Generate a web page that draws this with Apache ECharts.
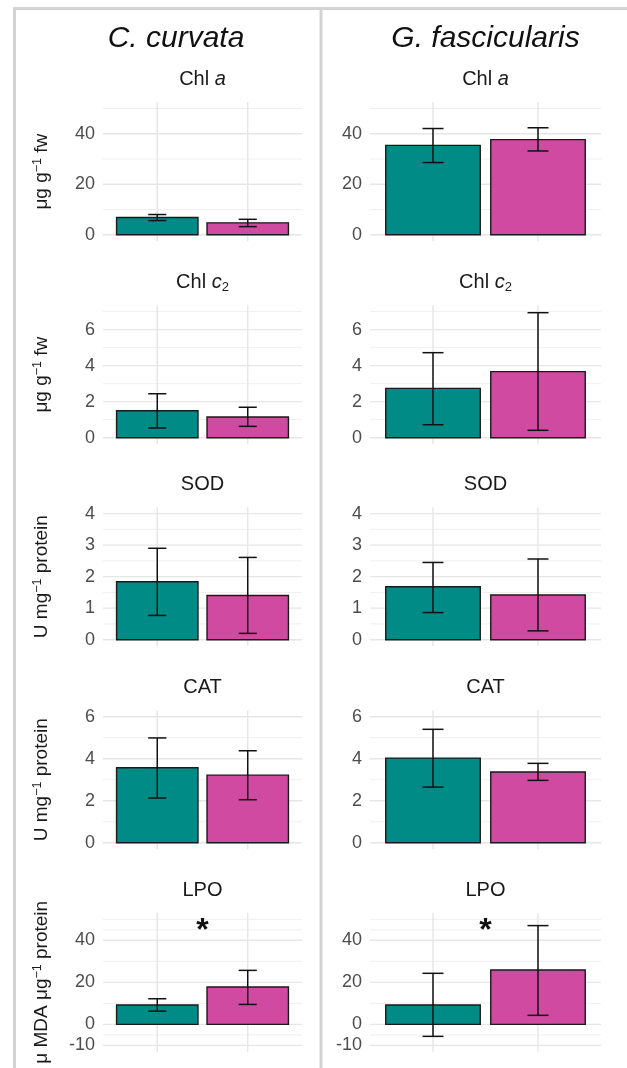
<!DOCTYPE html>
<html><head><meta charset="utf-8">
<script src="https://cdn.jsdelivr.net/npm/echarts@6/dist/echarts.min.js"></script>
<style>html,body{margin:0;padding:0;background:#fff}#c{width:627px;height:1068px}</style>
</head><body><div id="c"></div>
<script>
// ---------- data ----------
const species = ['C. curvata', 'G. fascicularis'];
const panelTitles = ['{n|Chl }{i|a}', '{n|Chl }{i|c}{s|2}', '{n|SOD}', '{n|CAT}', '{n|LPO}'];
const yTitles = ['{a|μg g}{p|−1}{a| fw}', '{a|μg g}{p|−1}{a| fw}', '{a|U mg}{p|−1}{a| protein}', '{a|U mg}{p|−1}{a| protein}', '{a|μ MDA μg}{p|−1}{a| protein}'];
const groupPos = [1, 2];

// C. curvata
const ccTealMean = [6.8, 1.50, 1.84, 3.57, 9.2];
const ccTealLow  = [5.6, 0.54, 0.77, 2.13, 6.3];
const ccTealHigh = [8.0, 2.44, 2.90, 4.99, 12.2];
const ccPinkMean = [4.7, 1.15, 1.40, 3.22, 17.8];
const ccPinkLow  = [3.2, 0.63, 0.20, 2.05, 9.5];
const ccPinkHigh = [6.1, 1.69, 2.61, 4.38, 25.7];
// G. fascicularis
const gfTealMean = [35.4, 2.74, 1.68, 4.03, 9.2];
const gfTealLow  = [28.6, 0.72, 0.86, 2.65, -5.7];
const gfTealHigh = [42.1, 4.72, 2.45, 5.40, 24.3];
const gfPinkMean = [37.7, 3.67, 1.42, 3.37, 25.9];
const gfPinkLow  = [33.2, 0.41, 0.28, 2.97, 4.3];
const gfPinkHigh = [42.4, 6.94, 2.56, 3.78, 47.0];

const yMin = [-2.5, -0.35, -0.2, -0.3, -13];
const yMax = [52.5, 7.35, 4.2, 6.3, 53];
const majorTicks = [[0, 20, 40], [0, 2, 4, 6], [0, 1, 2, 3, 4], [0, 2, 4, 6], [-10, 0, 20, 40]];
const minorTicks = [[10, 30, 50], [1, 3, 5, 7], [0.5, 1.5, 2.5, 3.5], [1, 3, 5], [-5, 10, 30, 45, 50]];
const starLabel = ['', '', '', '', '*'];
const starY = [null, null, null, null, 47];

// ---------- layout / style ----------
const FONT = '"Liberation Sans", Arial, sans-serif';
const TEAL = '#008B87', PINK = '#D14AA1';
const X_MIN = 0.4, X_MAX = 2.6, BAR_W = 0.9, CAP_W = 0.2;
const colLeft = [103, 370], colWidth = [199, 231];
const rowTop = [102.3, 305.3, 507.3, 710.4, 913], rowH = 138.7;
const headerX = [176, 485.5];

const dataSets = [
  [ccTealMean, ccTealLow, ccTealHigh, ccPinkMean, ccPinkLow, ccPinkHigh],
  [gfTealMean, gfTealLow, gfTealHigh, gfPinkMean, gfPinkLow, gfPinkHigh]
];

const grids = [], xAxes = [], yAxes = [], series = [], graphics = [];

for (let c = 0; c < 2; c++) {
  for (let r = 0; r < 5; r++) {
    const i = c * 5 + r;
    grids.push({left: colLeft[c], top: rowTop[r], width: colWidth[c], height: rowH, containLabel: false, outerBoundsMode: 'none'});
    xAxes.push({gridIndex: i, type: 'value', min: X_MIN, max: X_MAX, show: false});
    yAxes.push({
      gridIndex: i, type: 'value', min: yMin[r], max: yMax[r],
      axisLine: {show: false}, axisTick: {show: false}, splitLine: {show: false},
      axisLabel: {customValues: majorTicks[r], color: '#4d4d4d', fontSize: 18, fontFamily: FONT, margin: 8},
      name: c === 0 ? yTitles[r] : '', nameLocation: 'middle', nameGap: 51,
      nameTextStyle: {
        color: '#1a1a1a', fontFamily: FONT, fontSize: 19,
        rich: {
          a: {fontSize: 19, lineHeight: 21, fontFamily: FONT, color: '#1a1a1a'},
          p: {fontSize: 12.5, lineHeight: 12, verticalAlign: 'top', fontFamily: FONT, color: '#1a1a1a'}
        }
      }
    });
    const lo = yMin[r], hi = yMax[r];
    // horizontal grid lines
    series.push({
      type: 'custom', xAxisIndex: i, yAxisIndex: i, silent: true, z: 1, clip: false,
      data: majorTicks[r].map(v => [v, 1]).concat(minorTicks[r].map(v => [v, 0])),
      renderItem: (p, api) => {
        const v = api.value(0), major = api.value(1);
        const a = api.coord([X_MIN, v]), b = api.coord([X_MAX, v]);
        return {type: 'line', shape: {x1: a[0], y1: a[1], x2: b[0], y2: b[1]},
          style: {stroke: major ? '#e6e6e6' : '#efefef', lineWidth: major ? 1.4 : 1}};
      }
    });
    // vertical grid lines
    series.push({
      type: 'custom', xAxisIndex: i, yAxisIndex: i, silent: true, z: 1, clip: false,
      data: groupPos.map(x => [x, 0]),
      renderItem: (p, api) => {
        const x = api.value(0);
        const a = api.coord([x, lo]), b = api.coord([x, hi]);
        return {type: 'line', shape: {x1: a[0], y1: a[1], x2: b[0], y2: b[1]},
          style: {stroke: '#e6e6e6', lineWidth: 1.4}};
      }
    });
    // bars + error bars
    const d = dataSets[c];
    series.push({
      type: 'custom', xAxisIndex: i, yAxisIndex: i, z: 3, clip: false,
      data: [[groupPos[0], d[0][r], d[1][r], d[2][r], 0], [groupPos[1], d[3][r], d[4][r], d[5][r], 1]],
      renderItem: (p, api) => {
        const x = api.value(0), m = api.value(1), l = api.value(2), h = api.value(3), k = api.value(4);
        const tl = api.coord([x - BAR_W / 2, m]), br = api.coord([x + BAR_W / 2, 0]);
        const e1 = api.coord([x, l]), e2 = api.coord([x, h]);
        const cl = api.coord([x - CAP_W / 2, h]), cr = api.coord([x + CAP_W / 2, h]);
        const bl = api.coord([x - CAP_W / 2, l]), brr = api.coord([x + CAP_W / 2, l]);
        const es = {stroke: '#111', lineWidth: 1.5};
        return {type: 'group', children: [
          {type: 'rect', shape: {x: tl[0], y: tl[1], width: br[0] - tl[0], height: br[1] - tl[1]},
            style: {fill: k === 0 ? TEAL : PINK, stroke: '#1a1a1a', lineWidth: 1.4}},
          {type: 'line', shape: {x1: e1[0], y1: e1[1], x2: e2[0], y2: e2[1]}, style: es},
          {type: 'line', shape: {x1: cl[0], y1: cl[1], x2: cr[0], y2: cr[1]}, style: es},
          {type: 'line', shape: {x1: bl[0], y1: bl[1], x2: brr[0], y2: brr[1]}, style: es}
        ]};
      }
    });
    if (starLabel[r]) {
      series.push({
        type: 'custom', xAxisIndex: i, yAxisIndex: i, z: 4, clip: false, silent: true,
        data: [[(groupPos[0] + groupPos[1]) / 2, starY[r]]],
        renderItem: (p, api) => {
          const pt = api.coord([api.value(0), api.value(1)]);
          return {type: 'text', x: pt[0], y: pt[1] + 6,
            style: {text: starLabel[r], fill: '#111', font: 'bold 32px ' + FONT, align: 'center', verticalAlign: 'middle'}};
        }
      });
    }
    // panel title
    graphics.push({
      type: 'text', x: colLeft[c] + colWidth[c] / 2, y: rowTop[r] - 23, silent: true,
      style: {
        text: panelTitles[r], align: 'center', verticalAlign: 'middle', fill: '#1a1a1a',
        font: '20px ' + FONT,
        rich: {
          n: {fontSize: 20, lineHeight: 24, fontFamily: FONT, fill: '#1a1a1a'},
          i: {fontSize: 20, lineHeight: 24, fontStyle: 'italic', fontFamily: FONT, fill: '#1a1a1a'},
          s: {fontSize: 13, lineHeight: 14, verticalAlign: 'bottom', fontFamily: FONT, fill: '#1a1a1a'}
        }
      }
    });
  }
  // species header
  graphics.push({
    type: 'text', x: headerX[c], y: 39, silent: true,
    style: {text: species[c], align: 'center', verticalAlign: 'middle', fill: '#111',
      font: 'italic 30px ' + FONT}
  });
}

// frame lines
const FRAME = '#d3d3d3';
graphics.push({type: 'rect', shape: {x: 13, y: 7, width: 614, height: 3}, style: {fill: FRAME}, silent: true});
graphics.push({type: 'rect', shape: {x: 13, y: 7, width: 3, height: 1061}, style: {fill: FRAME}, silent: true});
graphics.push({type: 'rect', shape: {x: 319.5, y: 7, width: 3, height: 1061}, style: {fill: FRAME}, silent: true});

const chart = echarts.init(document.getElementById('c'), null, {renderer: 'canvas'});
chart.setOption({
  animation: false,
  backgroundColor: '#fff',
  grid: grids, xAxis: xAxes, yAxis: yAxes, series: series,
  graphic: {elements: graphics}
});
</script></body></html>
